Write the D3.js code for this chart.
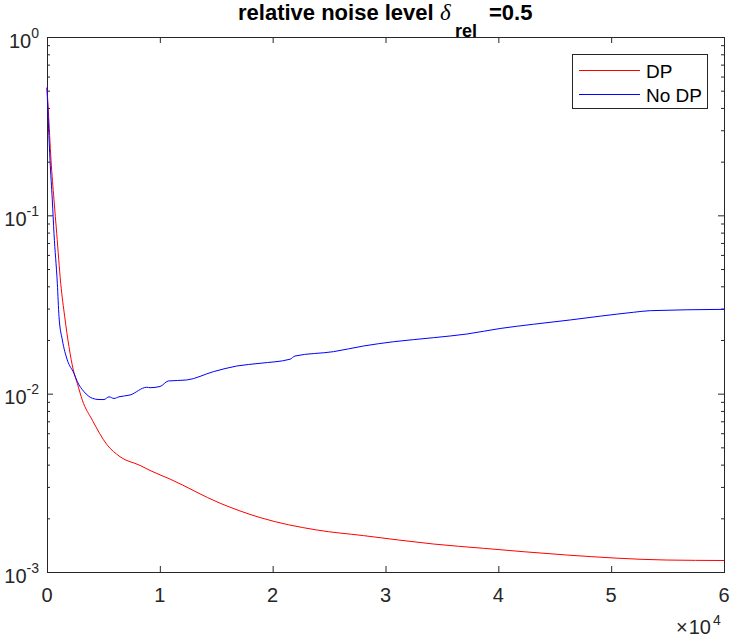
<!DOCTYPE html>
<html>
<head>
<meta charset="utf-8">
<script src="https://cdn.jsdelivr.net/npm/d3@7"></script>
<style>
  body { margin: 0; background: #fff; }
  svg { display: block; }
</style>
</head>
<body>
<svg width="732" height="639"></svg>
<script>
// values (iteration, relative error)
const dpIter = [0, 115, 355, 620, 860, 1215, 1570, 1950, 2330, 2690, 3130, 4020, 5290, 6470, 8245, 9130, 10900, 15340, 18880, 23910, 28040, 34250, 38680, 46070, 54940, 60000];
const dpErr = [0.52, 0.39, 0.204, 0.122, 0.0793, 0.0416, 0.027, 0.0183, 0.0136, 0.0114, 0.0092, 0.0071, 0.0052, 0.00443, 0.00396, 0.00371, 0.00332, 0.00243, 0.00202, 0.00172, 0.0016, 0.001435, 0.001358, 0.001245, 0.001167, 0.00116];

const noDpIter = [0, 266, 470, 620, 915, 1065, 1360, 1800, 2390, 2690, 3280, 4020, 4610, 5050, 5495, 5940, 6380, 7360, 8840, 9130, 10020, 10750, 12380, 14740, 16810, 18880, 21540, 21980, 25390, 28040, 30700, 34250, 37210, 40160, 43110, 46370, 49030, 51980, 53460, 60000];
const noDpErr = [0.52, 0.204, 0.122, 0.0793, 0.0416, 0.027, 0.02, 0.01545, 0.013, 0.01167, 0.01026, 0.00942, 0.00927, 0.00927, 0.0096, 0.0094, 0.0096, 0.00983, 0.01086, 0.0108, 0.01097, 0.01178, 0.01193, 0.01328, 0.01429, 0.0148, 0.0156, 0.01626, 0.0172, 0.0185, 0.01955, 0.0206, 0.0216, 0.0232, 0.0245, 0.0259, 0.0272, 0.0286, 0.0292, 0.0297];

const xTicks = [0, 10000, 20000, 30000, 40000, 50000, 60000];
const yTicks = [1e-3, 1e-2, 1e-1, 1];
const seriesNames = ["DP", "No DP"];
const seriesColors = ["#ff0000", "#0000ff"];

const svg = d3.select("svg");
const axisColor = "#262626";
const font = "'Liberation Sans', Arial, sans-serif";

const plotLeft = 47, plotRight = 724, plotTop = 37, plotBottom = 572;

const x = d3.scaleLinear().domain([0, 60000]).range([plotLeft, plotRight]);
const y = d3.scaleLog().domain([1e-3, 1]).range([plotBottom, plotTop]);

// minor ticks 2..9 per decade
const minorTicks = [];
for (let e = -3; e < 0; e++) {
    for (let m = 2; m <= 9; m++) minorTicks.push(m * Math.pow(10, e));
}

// axes box
svg.append("rect")
    .attr("x", plotLeft + 0.5).attr("y", plotTop + 0.5)
    .attr("width", plotRight - plotLeft).attr("height", plotBottom - plotTop)
    .attr("fill", "none").attr("stroke", axisColor).attr("stroke-width", 1);

function styleAxis(g) {
    g.select(".domain").remove();
    g.selectAll(".tick line").attr("stroke", axisColor);
    g.selectAll("text").remove();
}

// ticks inside the box on all four sides
svg.append("g").attr("transform", `translate(0,${plotBottom})`)
    .call(d3.axisBottom(x).tickValues(xTicks).tickSize(-6)).call(styleAxis);
svg.append("g").attr("transform", `translate(0,${plotTop})`)
    .call(d3.axisTop(x).tickValues(xTicks).tickSize(-6)).call(styleAxis);
svg.append("g").attr("transform", `translate(${plotLeft},0)`)
    .call(d3.axisLeft(y).tickValues(yTicks).tickSize(-6)).call(styleAxis);
svg.append("g").attr("transform", `translate(${plotRight},0)`)
    .call(d3.axisRight(y).tickValues(yTicks).tickSize(-6)).call(styleAxis);
svg.append("g").attr("transform", `translate(${plotLeft},0)`)
    .call(d3.axisLeft(y).tickValues(minorTicks).tickSize(-3)).call(styleAxis);
svg.append("g").attr("transform", `translate(${plotRight},0)`)
    .call(d3.axisRight(y).tickValues(minorTicks).tickSize(-3)).call(styleAxis);

// x tick labels
svg.append("g").selectAll("text")
    .data(xTicks)
    .join("text")
    .attr("x", d => x(d))
    .attr("y", plotBottom + 29.5)
    .attr("text-anchor", "middle")
    .attr("font-family", font)
    .attr("font-size", 20)
    .attr("fill", axisColor)
    .text(d => d / 1e4);

// y tick labels 10^k
const yLab = svg.append("g").selectAll("text")
    .data(yTicks)
    .join("text")
    .attr("x", 39)
    .attr("y", d => y(d) + 10.5)
    .attr("text-anchor", "end")
    .attr("font-family", font)
    .attr("fill", axisColor);
yLab.append("tspan").attr("font-size", 20).text("10");
yLab.append("tspan").attr("font-size", 14).attr("dy", -10)
    .text(d => String(Math.round(Math.log10(d))));

// exponent note
const expo = svg.append("text")
    .attr("x", 676).attr("y", 634)
    .attr("font-family", font)
    .attr("fill", axisColor);
expo.append("tspan").attr("font-size", 20).text("\u00d7");
expo.append("tspan").attr("font-size", 20).attr("dx", 1).text("10");
expo.append("tspan").attr("font-size", 14).attr("dy", -9).attr("dx", 2).text("4");

// curves
const line = d3.line()
    .curve(d3.curveMonotoneX)
    .x(d => x(d[0])).y(d => y(d[1]));
const series = [d3.zip(dpIter, dpErr), d3.zip(noDpIter, noDpErr)];

svg.append("g").selectAll("path")
    .data(series)
    .join("path")
    .attr("d", line)
    .attr("fill", "none")
    .attr("stroke", (d, i) => seriesColors[i])
    .attr("stroke-width", 1);

// legend
const legend = svg.append("g");
legend.append("rect")
    .attr("x", 572.5).attr("y", 54.5)
    .attr("width", 135).attr("height", 54)
    .attr("fill", "#fff").attr("stroke", axisColor);
seriesNames.forEach((name, i) => {
    const ly = 70 + i * 24;
    legend.append("line")
        .attr("x1", 579).attr("x2", 640)
        .attr("y1", ly + 0.5).attr("y2", ly + 0.5)
        .attr("stroke", seriesColors[i]);
    legend.append("text")
        .attr("x", 646).attr("y", ly + 7.5)
        .attr("font-family", font)
        .attr("font-size", 19)
        .attr("fill", "#000")
        .text(name);
});

// title
const title = svg.append("text")
    .attr("y", 19.5)
    .attr("font-family", font)
    .attr("font-weight", "bold")
    .attr("font-size", 22)
    .attr("fill", "#000");
title.append("tspan").attr("x", 238).text("relative noise level");
title.append("tspan")
    .attr("x", 440)
    .attr("font-family", "'Liberation Serif', 'Times New Roman', serif")
    .attr("font-style", "italic")
    .attr("font-weight", "normal")
    .attr("font-size", 23)
    .text("\u03b4");
title.append("tspan").attr("x", 455).attr("y", 36.5).attr("font-size", 18).text("rel");
title.append("tspan").attr("x", 489).attr("y", 19.5).text("=0.5");
</script>
</body>
</html>
